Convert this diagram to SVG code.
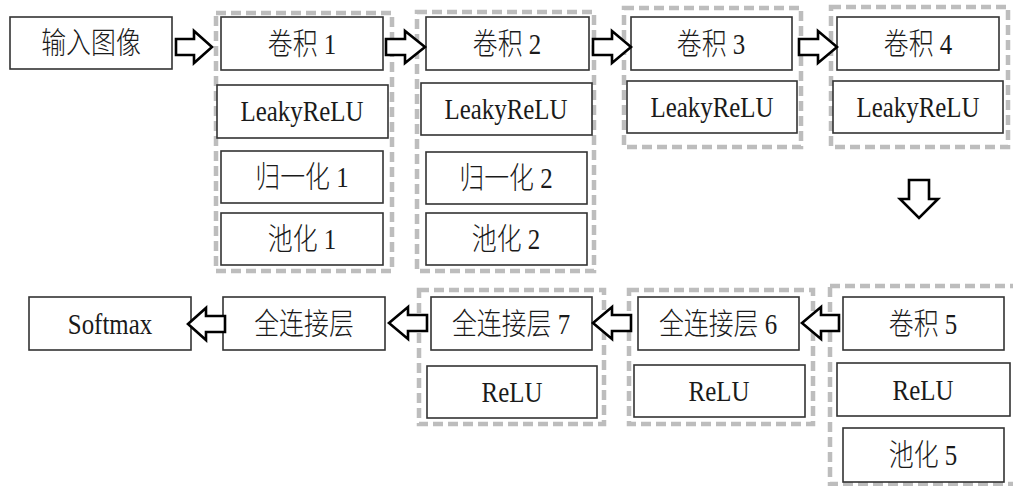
<svg xmlns="http://www.w3.org/2000/svg" width="1013" height="486" viewBox="0 0 1013 486">
<style>
.grp{fill:none;stroke:#bdbdbd;stroke-width:4.5;stroke-dasharray:10 5}
.box{fill:#fff;stroke:#333;stroke-width:1.6}
.t{font-family:"Liberation Serif","Noto Sans CJK SC",serif;font-size:30px;font-weight:300;fill:#1a1a1a;text-anchor:middle}
.arr{fill:#fff;stroke:#000;stroke-width:2.6;stroke-linejoin:miter}
</style>
<rect width="1013" height="486" fill="#fff"/>
<g id="groups">
<rect class="grp" x="216" y="13" width="176" height="258"/>
<rect class="grp" x="417" y="12" width="177" height="259"/>
<rect class="grp" x="624" y="8" width="177" height="139"/>
<rect class="grp" x="831" y="7" width="177" height="140"/>
<rect class="grp" x="419" y="290" width="185" height="134"/>
<rect class="grp" x="629" y="290" width="184" height="134"/>
<rect class="grp" x="830" y="286" width="190" height="198"/>
</g>
<g id="n_input"><rect class="box" x="10" y="17" width="162" height="52"/><text class="t" transform="translate(91,53) scale(0.83,1)">输入图像</text></g>
<g id="n_conv1"><rect class="box" x="221" y="17" width="162" height="53"/><text class="t" transform="translate(302,54) scale(0.83,1)">卷积 1</text></g>
<g id="n_lrelu1"><rect class="box" x="217" y="85" width="171" height="53"/><text class="t" transform="translate(302,121) scale(0.83,1)">LeakyReLU</text></g>
<g id="n_norm1"><rect class="box" x="221" y="151" width="162" height="52"/><text class="t" transform="translate(302,187) scale(0.83,1)">归一化 1</text></g>
<g id="n_pool1"><rect class="box" x="221" y="213" width="162" height="52"/><text class="t" transform="translate(302,249) scale(0.83,1)">池化 1</text></g>
<g id="n_conv2"><rect class="box" x="426" y="17" width="163" height="53"/><text class="t" transform="translate(507,54) scale(0.83,1)">卷积 2</text></g>
<g id="n_lrelu2"><rect class="box" x="421" y="83" width="171" height="52"/><text class="t" transform="translate(506,119) scale(0.83,1)">LeakyReLU</text></g>
<g id="n_norm2"><rect class="box" x="426" y="152" width="161" height="52"/><text class="t" transform="translate(506,188) scale(0.83,1)">归一化 2</text></g>
<g id="n_pool2"><rect class="box" x="426" y="213" width="161" height="52"/><text class="t" transform="translate(506,249) scale(0.83,1)">池化 2</text></g>
<g id="n_conv3"><rect class="box" x="631" y="17" width="161" height="53"/><text class="t" transform="translate(711,54) scale(0.83,1)">卷积 3</text></g>
<g id="n_lrelu3"><rect class="box" x="627" y="81" width="170" height="52"/><text class="t" transform="translate(712,117) scale(0.83,1)">LeakyReLU</text></g>
<g id="n_conv4"><rect class="box" x="837" y="17" width="162" height="53"/><text class="t" transform="translate(918,54) scale(0.83,1)">卷积 4</text></g>
<g id="n_lrelu4"><rect class="box" x="833" y="81" width="170" height="52"/><text class="t" transform="translate(918,117) scale(0.83,1)">LeakyReLU</text></g>
<g id="n_conv5"><rect class="box" x="843" y="297" width="161" height="53"/><text class="t" transform="translate(923,334) scale(0.83,1)">卷积 5</text></g>
<g id="n_relu5"><rect class="box" x="837" y="363" width="173" height="53"/><text class="t" transform="translate(923,400) scale(0.83,1)">ReLU</text></g>
<g id="n_pool5"><rect class="box" x="843" y="428" width="161" height="54"/><text class="t" transform="translate(923,465) scale(0.83,1)">池化 5</text></g>
<g id="n_fc6"><rect class="box" x="638" y="297" width="161" height="53"/><text class="t" transform="translate(718,334) scale(0.83,1)">全连接层 6</text></g>
<g id="n_relu6"><rect class="box" x="634" y="365" width="171" height="52"/><text class="t" transform="translate(719,401) scale(0.83,1)">ReLU</text></g>
<g id="n_fc7"><rect class="box" x="431" y="297" width="161" height="53"/><text class="t" transform="translate(511,334) scale(0.83,1)">全连接层 7</text></g>
<g id="n_relu7"><rect class="box" x="427" y="366" width="170" height="52"/><text class="t" transform="translate(512,402) scale(0.83,1)">ReLU</text></g>
<g id="n_fc"><rect class="box" x="223" y="297" width="162" height="53"/><text class="t" transform="translate(304,334) scale(0.83,1)">全连接层</text></g>
<g id="n_softmax"><rect class="box" x="29" y="297" width="162" height="53"/><text class="t" transform="translate(110,334) scale(0.83,1)">Softmax</text></g>
<g id="connectors">
<path class="arr" d="M176 39 L194 39 L194 31 L212 47 L194 63 L194 55 L176 55 Z"/>
<path class="arr" d="M386 39 L405 39 L405 31 L425 47 L405 63 L405 55 L386 55 Z"/>
<path class="arr" d="M593 39 L612 39 L612 31 L631 47 L612 63 L612 55 L593 55 Z"/>
<path class="arr" d="M799 39 L818 39 L818 31 L837 47 L818 63 L818 55 L799 55 Z"/>
<path class="arr" d="M909 180 L929 180 L929 199 L938 199 L919 218 L900 199 L909 199 Z"/>
<path class="arr" d="M839 315 L821 315 L821 307 L802 323 L821 339 L821 331 L839 331 Z"/>
<path class="arr" d="M631 315 L612 315 L612 307 L593 323 L612 339 L612 331 L631 331 Z"/>
<path class="arr" d="M427 315 L408 315 L408 307 L389 323 L408 339 L408 331 L427 331 Z"/>
<path class="arr" d="M225 316 L206 316 L206 308 L188 324 L206 340 L206 332 L225 332 Z"/>
</g>
</svg>
